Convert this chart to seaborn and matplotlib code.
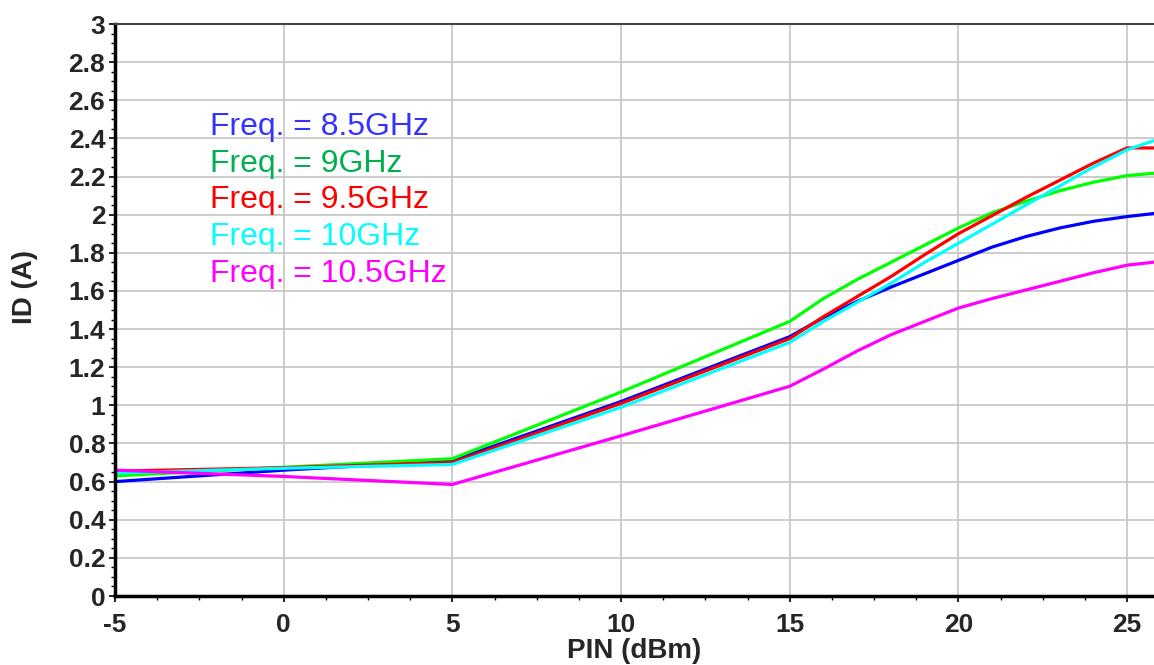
import matplotlib
matplotlib.use("Agg")
import matplotlib.pyplot as plt
from matplotlib.ticker import MultipleLocator, FuncFormatter
import seaborn as sns
import pandas as pd

# ---- data ----
pin = [-5, 0, 5, 10, 15, 16, 17, 18, 19, 20, 21, 22, 23, 24, 25, 26]
id_85 = [0.60, 0.66, 0.71, 1.02, 1.36, 1.46, 1.545, 1.62, 1.69, 1.76, 1.83, 1.885, 1.93, 1.965, 1.99, 2.01]
id_90 = [0.63, 0.675, 0.72, 1.07, 1.44, 1.56, 1.66, 1.75, 1.84, 1.93, 2.01, 2.07, 2.125, 2.17, 2.205, 2.22]
id_95 = [0.655, 0.673, 0.70, 1.01, 1.35, 1.465, 1.57, 1.675, 1.79, 1.90, 1.995, 2.09, 2.18, 2.27, 2.35, 2.35]
id_100 = [0.645, 0.67, 0.69, 0.99, 1.33, 1.44, 1.54, 1.64, 1.75, 1.85, 1.95, 2.05, 2.15, 2.25, 2.34, 2.40]
id_105 = [0.66, 0.627, 0.585, 0.84, 1.10, 1.19, 1.285, 1.37, 1.44, 1.51, 1.56, 1.605, 1.65, 1.695, 1.735, 1.755]

series_names = ["Freq. = 8.5GHz", "Freq. = 9GHz", "Freq. = 9.5GHz", "Freq. = 10GHz", "Freq. = 10.5GHz"]
series_vals = [id_85, id_90, id_95, id_100, id_105]
line_colors = ["#0000FF", "#00FF00", "#FF0000", "#00FFFF", "#FF00FF"]
text_colors = ["#3333FF", "#00B050", "#FF0000", "#00FFFF", "#FF00FF"]

rows = []
for name, vals in zip(series_names, series_vals):
    for x, y in zip(pin, vals):
        rows.append({"PIN": x, "ID": y, "Freq": name})
df = pd.DataFrame(rows)

sns.set_theme(style="white")
plt.rcParams["font.family"] = ["Liberation Sans", "DejaVu Sans"]

fig = plt.figure(figsize=(11.54, 6.65), dpi=100)
ax = fig.add_axes([115 / 1154, 69 / 665, 1 - 115 / 1154, (596 - 24) / 665])

sns.lineplot(data=df, x="PIN", y="ID", hue="Freq", hue_order=series_names,
             palette=dict(zip(series_names, line_colors)), linewidth=2.3,
             legend=False, ax=ax, sort=True, estimator=None)

ax.set_xlim(-5, 25.8)
ax.set_ylim(0, 3)
ax.xaxis.set_major_locator(MultipleLocator(5))
ax.xaxis.set_minor_locator(MultipleLocator(1.25))
ax.yaxis.set_major_locator(MultipleLocator(0.2))
ax.yaxis.set_minor_locator(MultipleLocator(0.05))
ax.yaxis.set_major_formatter(FuncFormatter(lambda v, p: f"{v:g}"))
ax.xaxis.set_major_formatter(FuncFormatter(lambda v, p: f"{v:g}"))

ax.grid(True, which="major", color="#c8c8c8", linewidth=1.3)
ax.set_axisbelow(True)

ax.tick_params(axis="both", which="major", direction="out", length=4, width=1.2,
               color="black", labelsize=19, pad=3, left=True, bottom=True)
ax.tick_params(axis="x", which="major", pad=8)
ax.tick_params(axis="both", which="minor", direction="out", length=3, width=1,
               color="black", left=True, bottom=True)
for lbl in ax.get_xticklabels() + ax.get_yticklabels():
    lbl.set_fontweight("bold")

for side in ["left", "bottom"]:
    ax.spines[side].set_color("black")
    ax.spines[side].set_linewidth(2.5)
ax.spines["top"].set_color("#444444")
ax.spines["top"].set_linewidth(1.5)
ax.spines["right"].set_visible(False)

ax.set_xlabel("PIN (dBm)", fontsize=20, fontweight="bold", labelpad=1)
ax.set_ylabel("ID (A)", fontsize=20, fontweight="bold")
ax.yaxis.set_label_coords(-0.074, 0.54)

text_y = [0.806, 0.741, 0.678, 0.614, 0.549]
for name, col, ty in zip(series_names, text_colors, text_y):
    ax.text(0.0914, ty, name, color=col, fontsize=23, transform=ax.transAxes,
            va="baseline", ha="left")

fig.savefig("out.png", dpi=100)
